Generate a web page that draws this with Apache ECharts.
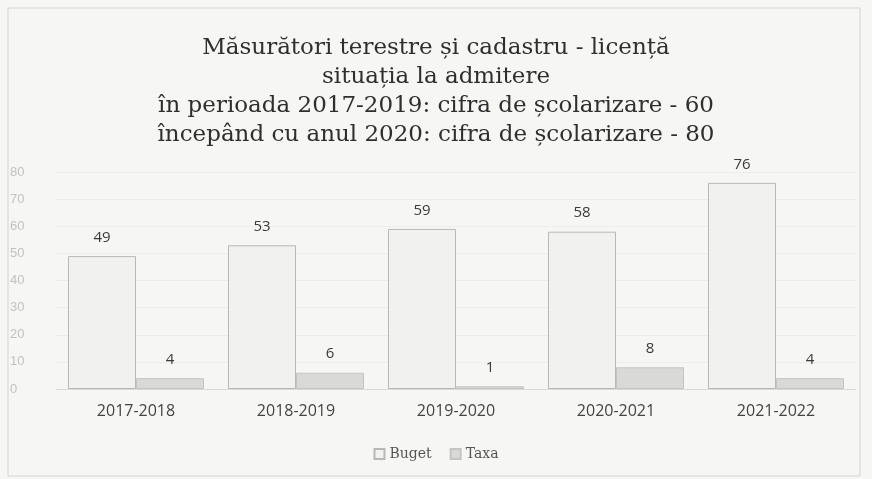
<!DOCTYPE html>
<html>
<head>
<meta charset="utf-8">
<script src="https://cdn.jsdelivr.net/npm/echarts@6/dist/echarts.min.js"></script>
<style>
  html, body { margin: 0; padding: 0; background: #f6f6f4; }
  #chart { width: 872px; height: 479px; }
</style>
</head>
<body>
<div id="chart"></div>
<script>
// date
const categories = ['2017-2018', '2018-2019', '2019-2020', '2020-2021', '2021-2022'];
const buget = [49, 53, 59, 58, 76];
const taxa = [4, 6, 1, 8, 4];
const yTicks = [0, 10, 20, 30, 40, 50, 60, 70, 80];

const titleLines = [
    'Măsurători terestre și cadastru - licență',
    'situația la admitere',
    'în perioada 2017-2019: cifra de școlarizare - 60',
    'începând cu anul 2020: cifra de școlarizare - 80'
];

const chart = echarts.init(document.getElementById('chart'));
chart.setOption({
    backgroundColor: '#f6f6f4',
    animation: false,
    graphic: [{
        type: 'rect',
        shape: { x: 8, y: 8, width: 852, height: 468 },
        style: { fill: 'none', stroke: '#d4d4d2', lineWidth: 1 }
    }],
    title: {
        text: titleLines.join('\n'),
        left: 'center',
        top: 29,
        textStyle: {
            fontFamily: 'DejaVu Serif',
            fontWeight: 'normal',
            fontSize: 23,
            lineHeight: 29,
            color: '#2f2f2f'
        }
    },
    grid: { left: 56, right: 16, top: 172, bottom: 90 },
    legend: {
        bottom: 13,
        left: 'center',
        itemWidth: 10,
        itemHeight: 10,
        itemGap: 18,
        icon: 'rect',
        textStyle: { fontFamily: 'DejaVu Serif', fontSize: 14, color: '#555' },
        data: ['Buget', 'Taxa']
    },
    xAxis: {
        type: 'category',
        data: categories,
        axisTick: { show: false },
        axisLine: { lineStyle: { color: '#d8d8d8' } },
        axisLabel: { color: '#444', fontSize: 16, margin: 14, fontFamily: 'Open Sans' }
    },
    yAxis: {
        type: 'value',
        min: yTicks[0],
        max: yTicks[yTicks.length - 1],
        interval: 10,
        axisLabel: { color: '#c2c2c2', fontSize: 13, margin: 46, align: 'left' },
        splitLine: { lineStyle: { color: '#ededeb' } }
    },
    series: [
        {
            name: 'Buget',
            type: 'bar',
            data: buget,
            barGap: '0%',
            barCategoryGap: '15%',
            itemStyle: { color: '#f1f1ef', borderColor: '#b8b8b8', borderWidth: 1 },
            label: { show: true, position: 'top', color: '#3a3a3a', fontSize: 15, distance: 11, fontFamily: 'Open Sans' }
        },
        {
            name: 'Taxa',
            type: 'bar',
            data: taxa,
            itemStyle: { color: '#d9d9d7', borderColor: '#c4c4c2', borderWidth: 1 },
            label: { show: true, position: 'top', color: '#3a3a3a', fontSize: 15, distance: 11, fontFamily: 'Open Sans' }
        }
    ]
});
</script>
</body>
</html>
